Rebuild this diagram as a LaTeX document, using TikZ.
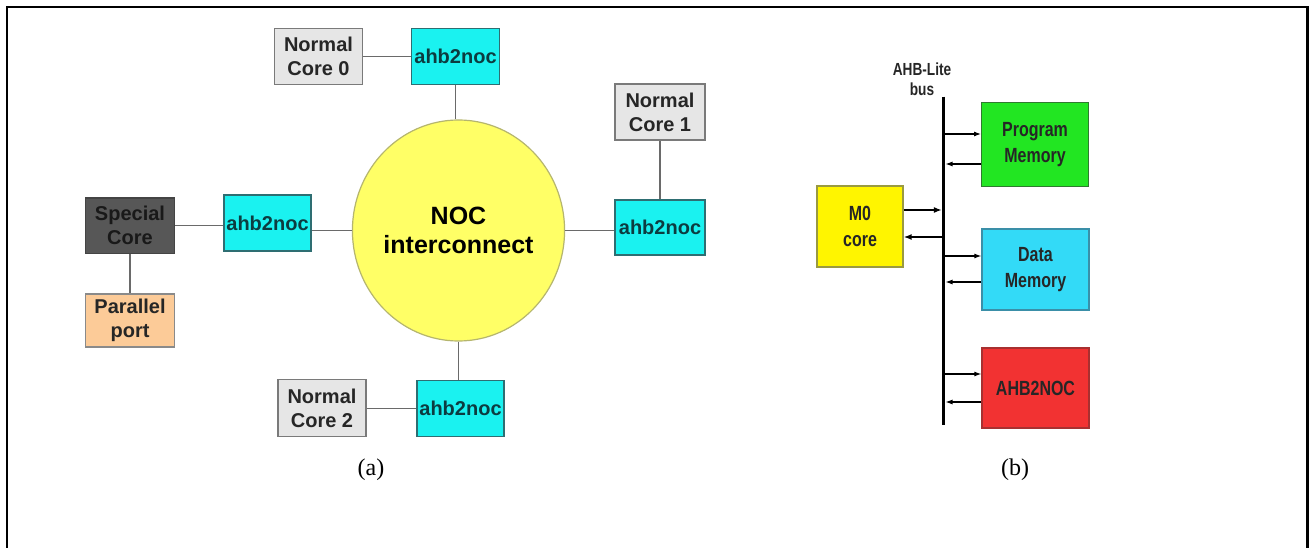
\documentclass[tikz,border=0pt]{standalone}
\usepackage{fontspec}
\setmainfont{Liberation Sans}
\newfontfamily\condfont[FakeStretch=0.78]{Liberation Sans}
\newfontfamily\capfont{Liberation Serif}
\usetikzlibrary{arrows.meta,calc,shapes.geometric}

\definecolor{coregray}{HTML}{E6E6E6}
\definecolor{coreedge}{HTML}{7A7A7A}
\definecolor{ahbcyan}{HTML}{1AF2F0}
\definecolor{ahbedge}{HTML}{2E6E72}
\definecolor{ahbtext}{HTML}{0C3C40}
\definecolor{specfill}{HTML}{575757}
\definecolor{specedge}{HTML}{444444}
\definecolor{portfill}{HTML}{FCCB98}
\definecolor{portedge}{HTML}{8A8A8A}
\definecolor{nocfill}{HTML}{FFFF66}
\definecolor{nocedge}{HTML}{B5B56E}
\definecolor{wire}{HTML}{6A6A6A}
\definecolor{pmgreen}{HTML}{22E622}
\definecolor{pmedge}{HTML}{2F7A2F}
\definecolor{dmblue}{HTML}{33DAF7}
\definecolor{dmedge}{HTML}{3A8FA8}
\definecolor{ahred}{HTML}{F23232}
\definecolor{ahedge}{HTML}{A83030}
\definecolor{myellow}{HTML}{FFF500}
\definecolor{myedge}{HTML}{9A9A40}

\tikzset{
  box/.style={draw, line width=1.3pt, inner sep=0pt, align=center,
    font=\bfseries\fontsize{20}{24}\selectfont},
  normalcore/.style={box, fill=coregray, draw=coreedge, text=black!85,
    minimum width=88pt, minimum height=56pt},
  ahb/.style={box, fill=ahbcyan, draw=ahbedge, text=ahbtext,
    minimum width=88pt, minimum height=56pt},
  wireline/.style={draw=wire, line width=1.4pt},
  unit/.style={draw, line width=1.3pt, inner sep=0pt, align=center,
    text=black!85, font=\condfont\bfseries\fontsize{20.5}{26.7}\selectfont},
  arr/.style={line width=1.1pt, -{Latex[length=7pt,width=5pt]}},
  arrbold/.style={line width=1.8pt, -{Latex[length=8pt,width=6pt]}},
  caption/.style={font=\capfont\fontsize{24}{28}\selectfont}
}

\begin{document}
\begin{tikzpicture}[x=1pt, y=-1pt]
\useasboundingbox (0,0) rectangle (1309,548);

% open frame around both panels
\draw[line width=2.5pt] (7,548) -- (7,7) -- (1307.5,7) -- (1307.5,548);

% ---------- (a) NOC system ----------
\node[ellipse, fill=nocfill, draw=nocedge, line width=1.2pt, inner sep=0pt,
  minimum width=211pt, minimum height=221pt, align=center,
  font=\bfseries\fontsize{25}{29}\selectfont] (noc) at (458.5,230.5) {NOC\\interconnect};

\node[normalcore] (nc0) at (318.5,56.3) {Normal\\Core 0};
\node[ahb] (ahbT) at (455.5,56.3) {ahb2noc};

\node[normalcore, minimum width=90pt] (nc1) at (660,112) {Normal\\Core 1};
\node[ahb, minimum width=90pt, minimum height=55pt] (ahbR) at (660,227.5) {ahb2noc};

\node[ahb, minimum width=87pt] (ahbL) at (267.5,223) {ahb2noc};
\node[box, fill=specfill, draw=specedge, text=black!90,
  minimum width=88.5pt, minimum height=55.5pt] (sc) at (130,225.8) {Special\\Core};
\node[box, fill=portfill, draw=portedge, text=black!85,
  minimum width=88.5pt, minimum height=53pt] (pp) at (130,320.5) {Parallel\\port};

\node[normalcore, minimum height=57pt] (nc2) at (322,408.2) {Normal\\Core 2};
\node[ahb, minimum width=87pt] (ahbB) at (460.5,408.2) {ahb2noc};

\draw[wireline] (nc0.east) -- (ahbT.west);
\draw[wireline] (ahbT.south) -- (ahbT.south |- noc.north);
\draw[wireline] (nc1.south) -- (ahbR.north);
\draw[wireline] (noc.east) -- (noc.east -| ahbR.west);
\draw[wireline] (noc.west) -- (noc.west -| ahbL.east);
\draw[wireline] (sc.east) -- (sc.east -| ahbL.west);
\draw[wireline] (sc.south) -- (pp.north);
\draw[wireline] (nc2.east) -- (ahbB.west);
\draw[wireline] (noc.south) -- (noc.south |- ahbB.north);

\node[caption] (capa) at (371,470) {(a)};

% ---------- (b) M0 subsystem ----------
\coordinate (bustop) at (943.7,96.7);
\coordinate (busbot) at (943.7,425);
\draw[line width=3.5pt] (bustop) -- (busbot);
\node[font=\condfont\bfseries\fontsize{17.5}{19.5}\selectfont, align=center, text=black!85]
  (buslabel) at (922,79) {AHB-Lite\\bus};

\node[unit, fill=pmgreen, draw=pmedge, minimum width=106.6pt, minimum height=84pt]
  (pm) at (1035,144.7) {Program\\Memory};
\node[unit, fill=dmblue, draw=dmedge, minimum width=107pt, minimum height=81pt]
  (dm) at (1035.5,269.5) {Data\\Memory};
\node[unit, fill=ahred, draw=ahedge, minimum width=107pt, minimum height=80pt]
  (ah) at (1035.5,388) {AHB2NOC};
\node[unit, fill=myellow, draw=myedge, minimum width=86pt, minimum height=81pt]
  (m0) at (860,226.5) {M0\\core};

% tap points on the bus
\coordinate (p1) at (943.7,134);
\coordinate (p2) at (943.7,164);
\coordinate (m1) at (943.7,210);
\coordinate (m2) at (943.7,237);
\coordinate (d1) at (943.7,256);
\coordinate (d2) at (943.7,282);
\coordinate (a1) at (943.7,374);
\coordinate (a2) at (943.7,402);

\draw[arr] (p1) -- (p1 -| pm.west);
\draw[arr] (p2 -| pm.west) -- ([xshift=1.8pt]p2);
\draw[arrbold] (m1 -| m0.east) -- ([xshift=-1.8pt]m1);
\draw[arrbold] (m2) -- (m2 -| m0.east);
\draw[arr] (d1) -- (d1 -| dm.west);
\draw[arr] (d2 -| dm.west) -- ([xshift=1.8pt]d2);
\draw[arr] (a1) -- (a1 -| ah.west);
\draw[arr] (a2 -| ah.west) -- ([xshift=1.8pt]a2);

\node[caption] (capb) at (1015,470) {(b)};
\end{tikzpicture}
\end{document}
